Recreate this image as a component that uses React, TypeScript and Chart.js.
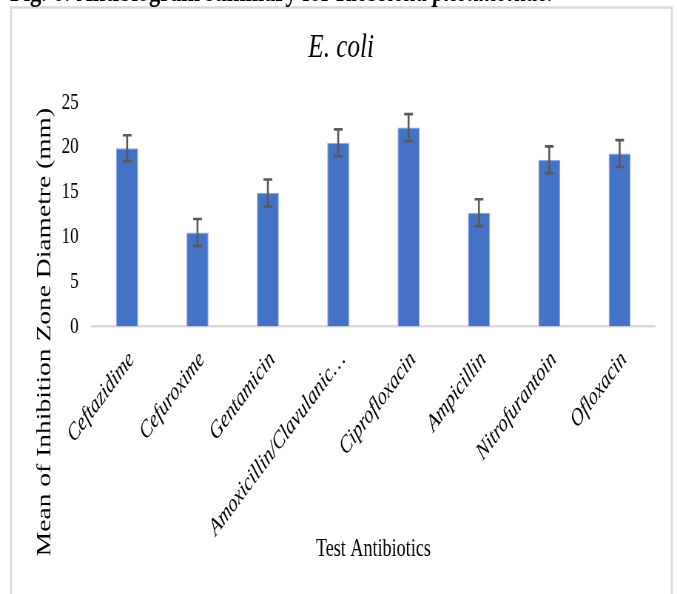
import React, { useEffect, useRef } from "react";
import { Chart, registerables } from "chart.js";

Chart.register(...registerables);

const categories = [
  "Ceftazidime",
  "Cefuroxime",
  "Gentamicin",
  "Amoxicillin/Clavulanic…",
  "Ciprofloxacin",
  "Ampicillin",
  "Nitrofurantoin",
  "Ofloxacin",
];
const meanValues = [19.9, 10.5, 14.9, 20.5, 22.2, 12.7, 18.6, 19.3];
const errorValues = [1.45, 1.5, 1.5, 1.5, 1.5, 1.5, 1.5, 1.5];
const yTicks = [0, 5, 10, 15, 20, 25];

const chartTitle = "E. coli";
const yTitle = "Mean of Inhibition Zone Diametre (mm)";
const xTitle = "Test Antibiotics";
const captionMain = "Fig. 6: Antibiogram summary for ";
const captionItalic = "Klebsiella pneumoniae.";

// The reference is horizontally squeezed; draw wide, then compress.
const SQUEEZE = 0.74;
const VIEW_W = 677;
const VIEW_H = 594;
const CANVAS_W = Math.round(VIEW_W / SQUEEZE);
const SERIF = "'Liberation Serif', 'Times New Roman', serif";

const decorPlugin = {
  id: "decor",
  beforeDraw(chart: any) {
    const ctx = chart.ctx;
    ctx.save();
    // frame
    ctx.strokeStyle = "#d9d9d9";
    ctx.lineWidth = 2.5;
    ctx.strokeRect(15, 7.5, 908 - 15, 640);
    // caption (mostly cut off at the top)
    ctx.fillStyle = "#000";
    ctx.textBaseline = "alphabetic";
    ctx.textAlign = "left";
    let size = 24;
    ctx.font = `bold ${size}px ${SERIF}`;
    let w1 = ctx.measureText(captionMain).width;
    ctx.font = `italic bold ${size}px ${SERIF}`;
    let w2 = ctx.measureText(captionItalic).width;
    size = (size * (748 - 13.5)) / (w1 + w2);
    ctx.font = `bold ${size}px ${SERIF}`;
    w1 = ctx.measureText(captionMain).width;
    ctx.fillText(captionMain, 13.5, 1);
    ctx.font = `italic bold ${size}px ${SERIF}`;
    ctx.fillText(captionItalic, 13.5 + w1, 1);
    ctx.restore();
  },
  afterDraw(chart: any) {
    const ctx = chart.ctx;
    ctx.save();
    ctx.fillStyle = "#000";
    ctx.textAlign = "center";
    ctx.textBaseline = "middle";
    ctx.font = `italic 34px ${SERIF}`;
    ctx.fillText(chartTitle, 461, 48);
    ctx.translate(61, 332);
    ctx.rotate(-Math.PI / 2);
    ctx.font = `27.5px ${SERIF}`;
    ctx.fillText(yTitle, 0, 0);
    ctx.restore();
  },
};

const errorBarPlugin = {
  id: "errorBars",
  afterDatasetsDraw(chart: any) {
    const ctx = chart.ctx;
    const meta = chart.getDatasetMeta(0);
    const yScale = chart.scales.y;
    ctx.save();
    ctx.strokeStyle = "#595959";
    ctx.lineWidth = 2.6;
    ctx.lineCap = "butt";
    meta.data.forEach((bar: any, i: number) => {
      const x = bar.x;
      const top = yScale.getPixelForValue(meanValues[i] + errorValues[i]);
      const bot = yScale.getPixelForValue(meanValues[i] - errorValues[i]);
      const half = bar.width * 0.2;
      ctx.beginPath();
      ctx.moveTo(x, top);
      ctx.lineTo(x, bot);
      ctx.moveTo(x - half, top);
      ctx.lineTo(x + half, top);
      ctx.moveTo(x - half, bot);
      ctx.lineTo(x + half, bot);
      ctx.stroke();
    });
    ctx.restore();
  },
};

export default function App() {
  const ref = useRef<HTMLCanvasElement | null>(null);

  useEffect(() => {
    if (!ref.current) return;
    const chart = new Chart(ref.current, {
      type: "bar",
      data: {
        labels: categories,
        datasets: [
          {
            data: meanValues,
            backgroundColor: "#4472C4",
            borderColor: "#8faadc",
            borderWidth: 1,
            borderSkipped: "bottom",
            barPercentage: 0.312,
            categoryPercentage: 1,
          },
        ],
      },
      options: {
        responsive: false,
        animation: false,
        devicePixelRatio: 1,
        layout: { padding: { top: 102.5, left: 0, right: 30, bottom: 30 } },
        plugins: {
          legend: { display: false },
          tooltip: { enabled: false },
          title: { display: false },
        },
        scales: {
          x: {
            grid: { display: false, drawTicks: false },
            border: { display: true, color: "#d9d9d9", width: 2.5 },
            ticks: {
              autoSkip: false,
              minRotation: 45,
              maxRotation: 45,
              padding: 19,
              labelOffset: 6,
              color: "#000",
              font: { family: SERIF, size: 24.5, style: "italic" },
            },
            title: {
              display: true,
              text: xTitle,
              color: "#000",
              padding: 0,
              font: { family: SERIF, size: 24.5 },
            },
            afterFit: (scale: any) => {
              scale.height = 237.5;
            },
          },
          y: {
            min: 0,
            max: 25,
            grid: { display: false, drawTicks: false },
            border: { display: false },
            afterBuildTicks: (scale: any) => {
              scale.ticks = yTicks.map((v) => ({ value: v }));
            },
            ticks: {
              padding: 18,
              color: "#000",
              font: { family: SERIF, size: 23 },
            },
            afterFit: (scale: any) => {
              scale.width = 124.3;
            },
          },
        },
      },
      plugins: [decorPlugin, errorBarPlugin],
    } as any);
    return () => chart.destroy();
  }, []);

  return (
    <div
      style={{
        position: "fixed",
        left: 0,
        top: 0,
        width: VIEW_W,
        height: VIEW_H,
        overflow: "hidden",
        background: "#fff",
      }}
    >
      <div
        style={{
          width: CANVAS_W,
          height: VIEW_H,
          transform: `scale(${VIEW_W / CANVAS_W}, 1)`,
          transformOrigin: "0 0",
        }}
      >
        <canvas
          ref={ref}
          width={CANVAS_W}
          height={VIEW_H}
          style={{ width: CANVAS_W, height: VIEW_H, display: "block" }}
        />
      </div>
    </div>
  );
}
